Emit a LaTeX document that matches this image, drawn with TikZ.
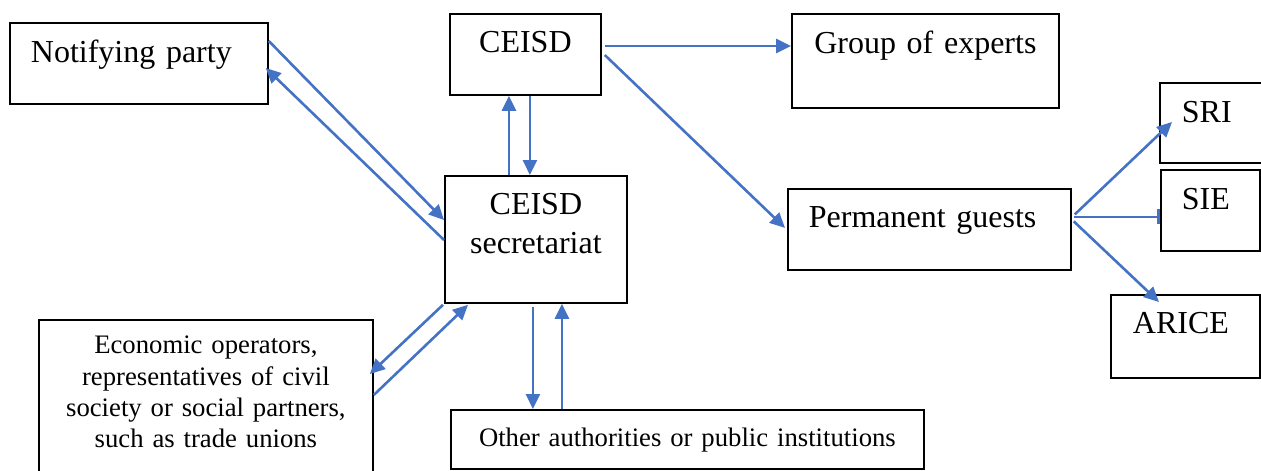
\documentclass[tikz,border=0pt]{standalone}
\usepackage{fontspec}
\setmainfont{Liberation Serif}
\usetikzlibrary{arrows.meta}
\definecolor{flowblue}{HTML}{4472C4}
\newcommand{\bigtxt}{\fontsize{32}{39}\selectfont}
\newcommand{\smalltxt}{\fontsize{26.7}{31.3}\selectfont}

\begin{document}
\begin{tikzpicture}[x=1pt,y=-1pt,
  box/.style={draw, line width=1.8pt, anchor=north west, inner ysep=0pt, inner xsep=0pt, align=center, font=\bigtxt},
  flow/.style={draw=flowblue, line width=2.6pt, -{Triangle[length=15pt,width=14pt]}},
  stub/.style={draw=flowblue, line width=2.6pt, -{Rectangle[length=3pt,width=15pt]}}]
\useasboundingbox (0,0) rectangle (1261,471);
\clip (0,0) rectangle (1261,471);

% boxes
\node[box, inner xsep=21pt, text width=216pt, align=left, text height=40pt, text depth=41pt] (notify) at (9,22) {Notifying party};
\node[box, text width=151pt, text height=39pt, text depth=42pt] (ceisd) at (449,13) {CEISD};
\node[box, text width=267pt, text height=40pt, text depth=54pt] (experts) at (791,13) {Group of experts};
\node[box, text width=182pt, text height=39pt, text depth=88pt] (secr) at (444,175) {CEISD\\secretariat};
\node[box, inner xsep=21pt, text width=241pt, align=left, text height=39pt, text depth=42pt] (guests) at (787,188) {Permanent guests};
\node[box, inner xsep=22pt, text width=96pt, align=left, text height=40pt, text depth=40pt] (sri) at (1159,82) {SRI};
\node[box, inner xsep=21pt, text width=57pt, align=left, text height=40pt, text depth=41pt] (sie) at (1160,169) {SIE};
\node[box, inner xsep=22pt, text width=105pt, align=left, text height=39pt, text depth=44pt] (arice) at (1110,294) {ARICE};
\node[box, font=\smalltxt, text width=334pt, text height=34pt, text depth=126pt] (operators) at (38,319) {Economic operators,\\representatives of civil\\society or social partners,\\such as trade unions};
\node[box, font=\smalltxt, text width=473pt, text height=37pt, text depth=22pt] (others) at (450,409) {Other authorities or public institutions};

% notifying party <-> secretariat
\draw[flow] ([yshift=-19pt]notify.north east) -- ([yshift=-45pt]secr.north west);
\draw[flow] ([yshift=-65pt]secr.north west) -- ([xshift=-3pt,yshift=-46pt]notify.north east);

% ceisd <-> secretariat
\draw[flow] ([xshift=-27pt]secr.north) -- ([xshift=-27pt]secr.north |- ceisd.south);
\draw[flow] ([xshift=4.5pt]ceisd.south) -- ([xshift=4.5pt]ceisd.south |- secr.north);

% ceisd -> experts, guests
\draw[flow] ([xshift=3pt,yshift=-33pt]ceisd.north east) coordinate (c1) -- (c1 -| experts.west);
\draw[flow] ([xshift=3pt,yshift=-42pt]ceisd.north east) -- ([xshift=-2pt,yshift=1.5pt]guests.west);

% guests -> sri, sie, arice
\draw[flow] ([xshift=3pt,yshift=15pt]guests.east) -- ([xshift=13pt,yshift=-40pt]sri.north west);
\draw[stub] ([xshift=2pt,yshift=12.5pt]guests.east) coordinate (g2) -- (g2 -| sie.west);
\draw[flow] ([xshift=2pt,yshift=8pt]guests.east) -- ([xshift=49pt,yshift=-8pt]arice.north west);

% secretariat <-> operators
\draw[flow] ([xshift=-1pt,yshift=-1pt]secr.south west) -- ([xshift=-4pt,yshift=-55pt]operators.north east);
\draw[flow] ([yshift=-76pt]operators.north east) -- ([xshift=24pt,yshift=-1pt]secr.south west);

% secretariat <-> other authorities
\draw[flow] ([xshift=-3pt,yshift=-3pt]secr.south) coordinate (s1) -- (s1 |- others.north);
\draw[flow] ([xshift=-125.5pt]others.north) -- ([xshift=-125.5pt]others.north |- secr.south);
\end{tikzpicture}
\end{document}
